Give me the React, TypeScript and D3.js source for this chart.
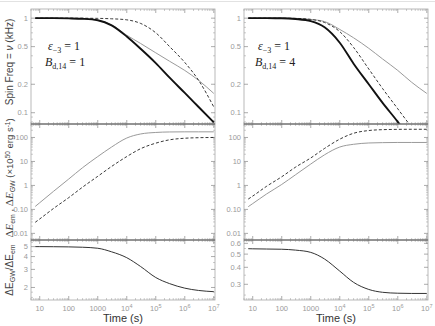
import React from "react";
import * as d3 from "d3";

// sample times (s), shared by all series
const times = [7, 10, 30, 100, 300, 1000, 3000, 1e4, 3e4, 1e5, 3e5, 1e6, 3e6, 1e7];
const timesShort = [7, 10, 30, 100, 300, 1000, 3000, 1e4, 3e4, 1e5, 3e5, 1e6, 3e6];

// spin frequency (kHz), B_d,14 = 1
const spinThickB1 = [1, 1, 1, 0.995, 0.985, 0.95, 0.84, 0.64, 0.475, 0.335, 0.235, 0.162, 0.115, 0.079];
const spinGrayB1 = [1, 1, 1, 0.995, 0.985, 0.95, 0.85, 0.66, 0.54, 0.43, 0.35, 0.28, 0.22, 0.16];
const spinDashB1 = [1, 1, 1, 1, 0.998, 0.995, 0.985, 0.96, 0.88, 0.7, 0.5, 0.34, 0.22, 0.115];
// spin frequency (kHz), B_d,14 = 4
const spinThickB4 = [1, 1, 1, 0.998, 0.98, 0.93, 0.8, 0.55, 0.33, 0.2, 0.127, 0.08, 0.05];
const spinGrayB4 = [1, 1, 1, 0.999, 0.995, 0.97, 0.92, 0.76, 0.62, 0.48, 0.37, 0.28, 0.21, 0.16];
const spinDashB4 = [1, 1, 1, 0.999, 0.995, 0.97, 0.9, 0.72, 0.49, 0.29, 0.18, 0.11, 0.07];

// energies (x10^50 erg)
const emB1 = [0.133, 0.19, 0.57, 1.85, 5.5, 16, 40, 95, 140, 162, 170, 172, 172, 172];
const gwB1 = [0.029, 0.04, 0.11, 0.31, 0.85, 2.4, 6.2, 16, 34, 58, 80, 93, 98, 100];
const emB4 = [0.13, 0.175, 0.44, 1.1, 2.8, 7.8, 19, 40, 52, 59, 61, 62, 62, 62];
const gwB4 = [0.27, 0.36, 0.92, 2.3, 5.8, 14, 35, 85, 150, 195, 212, 218, 220, 220];

// ratio GW / em
const ratioB1 = [5.0, 5.0, 4.99, 4.97, 4.93, 4.82, 4.45, 3.9, 3.2, 2.5, 2.18, 1.97, 1.87, 1.82];
const ratioB4 = [0.548, 0.547, 0.545, 0.543, 0.535, 0.515, 0.46, 0.375, 0.31, 0.275, 0.262, 0.258, 0.257, 0.257];

const xTicks = [10, 100, 1000, 1e4, 1e5, 1e6, 1e7];
const spinTicks = [0.1, 0.2, 0.5, 1];
const spinLabels = ["0.1", "0.2", "0.5", "1"];
const energyTicks = [0.01, 0.1, 1, 10, 100];
const energyLabels = ["0.01", "0.10", "1", "10", "100"];
const ratioTicksB1 = [2, 3, 4, 5];
const ratioMinorB1 = [1.6, 1.8, 2.5, 3.5, 4.5, 5.5];
const ratioTicksB4 = [0.3, 0.4, 0.5, 0.6];
const ratioMinorB4 = [0.25, 0.35, 0.45, 0.55];

const cols = [
  { x0: 31, x1: 215 },
  { x0: 244, x1: 428 },
];
const rows = [
  { y0: 9, y1: 124 },
  { y0: 124, y1: 240 },
  { y0: 240, y1: 300 },
];

const sans = "'Liberation Sans', Arial, sans-serif";
const serif = "'Liberation Serif', 'Times New Roman', serif";
const tickColor = "#9a9a9a";

type Series = { t: number[]; v: number[]; stroke: string; width: number; dash?: string };

function Panel(props: {
  id: string;
  col: number;
  row: number;
  domain: [number, number];
  ticks: number[];
  labels: string[];
  minor?: number[];
  series: Series[];
  xLabels?: boolean;
}) {
  const { x0, x1 } = cols[props.col];
  const { y0, y1 } = rows[props.row];
  const x = d3.scaleLog().domain([5, 1.1e7]).range([x0, x1]);
  const y = d3.scaleLog().domain(props.domain).range([y1, y0]);
  const minor = props.minor ?? y.ticks().filter((d) => !props.ticks.includes(d));
  const xMinor = x.ticks().filter((d) => !xTicks.includes(d));

  return (
    <g>
      <defs>
        <clipPath id={props.id}>
          <rect x={x0} y={y0} width={x1 - x0} height={y1 - y0} />
        </clipPath>
      </defs>
      <rect x={x0} y={y0} width={x1 - x0} height={y1 - y0} fill="none" stroke="#a8a8a8" strokeWidth={0.8} />
      {/* x ticks top & bottom */}
      {xTicks.map((d) => (
        <g key={"xt" + d} stroke="#888" strokeWidth={0.7}>
          <line x1={x(d)} x2={x(d)} y1={y1} y2={y1 - 4} />
          <line x1={x(d)} x2={x(d)} y1={y0} y2={y0 + 4} />
        </g>
      ))}
      {xMinor.map((d) => (
        <g key={"xm" + d} stroke="#999" strokeWidth={0.5}>
          <line x1={x(d)} x2={x(d)} y1={y1} y2={y1 - 2} />
          <line x1={x(d)} x2={x(d)} y1={y0} y2={y0 + 2} />
        </g>
      ))}
      {/* y ticks left & right */}
      {props.ticks.map((d, i) => (
        <g key={"yt" + d}>
          <line x1={x0} x2={x0 + 4} y1={y(d)} y2={y(d)} stroke="#888" strokeWidth={0.7} />
          <line x1={x1} x2={x1 - 4} y1={y(d)} y2={y(d)} stroke="#888" strokeWidth={0.7} />
          <text
            x={x0 - 3}
            y={y(d)}
            dy="0.35em"
            textAnchor="end"
            fontFamily={sans}
            fontSize={7.5}
            fill={tickColor}
          >
            {props.labels[i]}
          </text>
        </g>
      ))}
      {minor.map((d) => (
        <g key={"ym" + d} stroke="#999" strokeWidth={0.5}>
          <line x1={x0} x2={x0 + 2} y1={y(d)} y2={y(d)} />
          <line x1={x1} x2={x1 - 2} y1={y(d)} y2={y(d)} />
        </g>
      ))}
      <g clipPath={`url(#${props.id})`}>
        {props.series.map((s, i) => {
          const pts = s.t.map((t, j) => [x(t), y(s.v[j])] as [number, number]);
          const path = d3.line().curve(d3.curveMonotoneX)(pts) || undefined;
          return (
            <path
              key={i}
              d={path}
              fill="none"
              stroke={s.stroke}
              strokeWidth={s.width}
              strokeDasharray={s.dash}
            />
          );
        })}
      </g>
      {props.xLabels &&
        xTicks.map((d) => {
          const e = Math.round(Math.log10(d));
          return (
            <text
              key={"xl" + d}
              x={x(d)}
              y={y1 + 11}
              textAnchor="middle"
              fontFamily={sans}
              fontSize={7.5}
              fill={tickColor}
            >
              {e <= 3 ? String(d) : (
                <>
                  10
                  <tspan dy={-3} fontSize={5.5}>
                    {e}
                  </tspan>
                </>
              )}
            </text>
          );
        })}
    </g>
  );
}

function Params(props: { x: number; b: string }) {
  return (
    <g fontFamily={serif} fontSize={12} fill="#222">
      <text x={props.x + 3} y={50}>
        <tspan fontStyle="italic">ε</tspan>
        <tspan dy={3} fontSize={8}>−3</tspan>
        <tspan dy={-3}> = 1</tspan>
      </text>
      <text x={props.x} y={66}>
        <tspan fontStyle="italic">B</tspan>
        <tspan dy={3} fontSize={8}>d,14</tspan>
        <tspan dy={-3}> = {props.b}</tspan>
      </text>
    </g>
  );
}

export default function App() {
  const thick = { stroke: "#111", width: 1.9 };
  const gray = { stroke: "#9a9a9a", width: 1 };
  const dash = { stroke: "#222", width: 0.9, dash: "3,2" };
  return (
    <svg
      width={435}
      height={326}
      style={{ position: "absolute", left: 0, top: 0, background: "#fff" }}
    >
      <line x1={0} x2={435} y1={1.5} y2={1.5} stroke="#e2e2e2" />
      <Panel
        id="c1"
        col={0}
        row={0}
        domain={[0.076, 1.25]}
        ticks={spinTicks}
        labels={spinLabels}
        series={[
          { t: times, v: spinGrayB1, ...gray },
          { t: times, v: spinDashB1, ...dash },
          { t: times, v: spinThickB1, ...thick },
        ]}
      />
      <Panel
        id="c2"
        col={1}
        row={0}
        domain={[0.076, 1.25]}
        ticks={spinTicks}
        labels={spinLabels}
        series={[
          { t: times, v: spinGrayB4, ...gray },
          { t: timesShort, v: spinDashB4, ...dash },
          { t: timesShort, v: spinThickB4, ...thick },
        ]}
      />
      <Panel
        id="c3"
        col={0}
        row={1}
        domain={[0.0053, 365]}
        ticks={energyTicks}
        labels={energyLabels}
        series={[
          { t: times, v: emB1, ...gray },
          { t: times, v: gwB1, ...dash },
        ]}
      />
      <Panel
        id="c4"
        col={1}
        row={1}
        domain={[0.0053, 365]}
        ticks={energyTicks}
        labels={energyLabels}
        series={[
          { t: times, v: emB4, ...gray },
          { t: times, v: gwB4, ...dash },
        ]}
      />
      <Panel
        id="c5"
        col={0}
        row={2}
        domain={[1.51, 5.8]}
        ticks={ratioTicksB1}
        labels={ratioTicksB1.map(String)}
        minor={ratioMinorB1}
        xLabels
        series={[{ t: times, v: ratioB1, stroke: "#333", width: 1 }]}
      />
      <Panel
        id="c6"
        col={1}
        row={2}
        domain={[0.23, 0.635]}
        ticks={ratioTicksB4}
        labels={ratioTicksB4.map(String)}
        minor={ratioMinorB4}
        xLabels
        series={[{ t: times, v: ratioB4, stroke: "#333", width: 1 }]}
      />
      {/* shared panel boundaries */}
      {cols.map((c, i) => (
        <g key={i} stroke="#555" strokeWidth={0.9}>
          <line x1={c.x0} x2={c.x1} y1={rows[1].y0} y2={rows[1].y0} />
          <line x1={c.x0} x2={c.x1} y1={rows[2].y0} y2={rows[2].y0} />
        </g>
      ))}
      <Params x={45} b="1" />
      <Params x={255} b="4" />
      {/* axis titles */}
      <text
        transform="translate(13,62) rotate(-90)"
        textAnchor="middle"
        fontFamily={sans}
        fontSize={10}
        fill="#444"
      >
        Spin Freq = <tspan fontStyle="italic">ν</tspan> (kHz)
      </text>
      <text
        transform="translate(13,178) rotate(-90)"
        textAnchor="middle"
        fontFamily={sans}
        fontSize={9.5}
        fill="#444"
      >
        <tspan fontFamily={serif} fontSize={11}>Δ</tspan>
        <tspan fontFamily={serif} fontStyle="italic" fontSize={11}>E</tspan>
        <tspan dy={2} fontSize={7}>em</tspan>
        <tspan dy={-2}> , </tspan>
        <tspan fontFamily={serif} fontSize={11}>Δ</tspan>
        <tspan fontFamily={serif} fontStyle="italic" fontSize={11}>E</tspan>
        <tspan dy={2} fontSize={7}>GW</tspan>
        <tspan dy={-2}> (×10</tspan>
        <tspan dy={-3} fontSize={6.5}>50</tspan>
        <tspan dy={3}> erg s</tspan>
        <tspan dy={-3} fontSize={6.5}>-1</tspan>
        <tspan dy={3}>)</tspan>
      </text>
      <text
        transform="translate(13,270) rotate(-90)"
        textAnchor="middle"
        fontFamily={sans}
        fontSize={10}
        fill="#444"
      >
        ΔE<tspan dy={2} fontSize={7}>GW</tspan>
        <tspan dy={-2}>/ΔE</tspan>
        <tspan dy={2} fontSize={7}>em</tspan>
      </text>
      {cols.map((c, i) => (
        <text
          key={"tt" + i}
          x={(c.x0 + c.x1) / 2}
          y={322}
          textAnchor="middle"
          fontFamily={sans}
          fontSize={11}
          fill="#333"
        >
          Time (s)
        </text>
      ))}
    </svg>
  );
}
